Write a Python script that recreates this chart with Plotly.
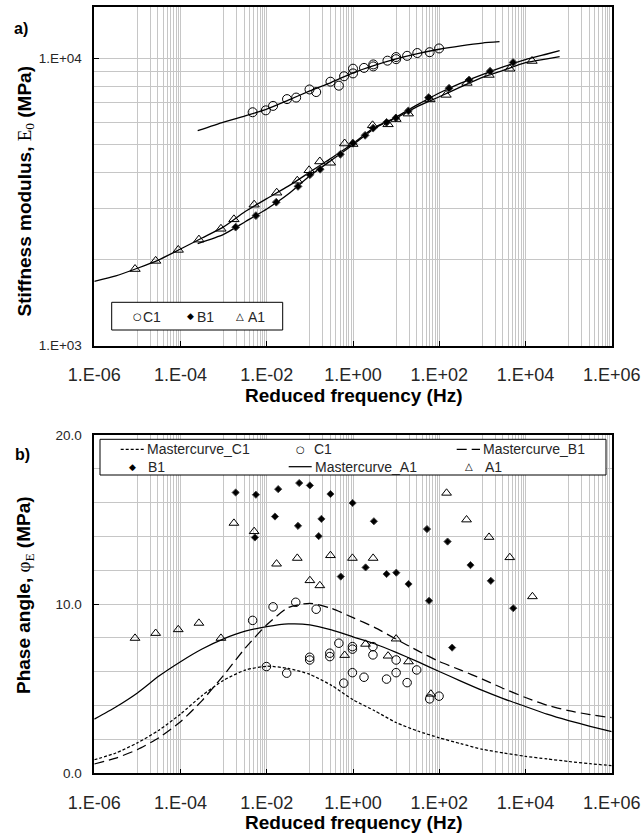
import plotly.graph_objects as go

# ---------------- data: stiffness modulus (panel a) ----------------
C1_F = [4.7e-3, 9.5e-3, 1.4e-2, 2.95e-2, 4.8e-2, 9.8e-2, 0.14, 0.30, 0.47, 0.62,
        1.0, 1.0, 1.8, 2.95, 2.95, 6.3, 10, 10, 18, 31, 60, 99]
C1_E = [6490, 6590, 6830, 7210, 7300, 7790, 7630, 8290, 8030, 8660,
        9200, 8860, 9260, 9370, 9520, 9810, 9930, 10100, 10200, 10430, 10500, 10820]

B1_F = [1.9e-3, 5.6e-3, 1.66e-2, 5.3e-2, 0.10, 0.173, 0.51, 1.0, 1.91, 2.93,
        6.0, 9.9, 19.2, 56.5, 169, 493, 1510, 5160]
B1_E = [2585, 2835, 3157, 3583, 3934, 4110, 4634, 5060, 5395, 5715,
        5985, 6204, 6561, 7297, 7867, 8408, 9013, 9670]

A1_F = [8.8e-6, 2.65e-5, 8.85e-5, 2.67e-4, 8.65e-4, 1.73e-3, 5.1e-3, 1.7e-2, 5.1e-2, 9.6e-2,
        0.17, 0.30, 0.64, 0.99, 2.84, 6.5, 9.9, 19.2, 60.5, 144, 440, 1430, 4330, 14200]
A1_E = [1848, 1973, 2154, 2339, 2551, 2752, 3095, 3407, 3750, 4077,
        4375, 4330, 5052, 5031, 5845, 5891, 6144, 6420, 7194, 7459, 8207, 8750, 9195, 9786]

# fitted master curves of the modulus
C1_MC_F = [2.5e-4, 1e-3, 3.16e-3, 1e-2, 3.16e-2, 0.1, 0.316, 1, 3.16, 10, 31.6, 100, 316, 1000, 2500]
C1_MC_E = [5600, 6000, 6300, 6650, 7150, 7700, 8250, 8900, 9450, 9950, 10380, 10750, 11050, 11300, 11420]

B1_MC_F = [2.5e-4, 1e-3, 3.16e-3, 1e-2, 3.16e-2, 0.1, 0.316, 1, 3.16, 10, 31.6, 100, 316,
           1000, 3160, 1e4, 3.16e4, 6.2e4]
B1_MC_E = [2266, 2440, 2700, 2990, 3370, 3900, 4420, 5000, 5700, 6250, 6900, 7570, 8200,
           8780, 9350, 9900, 10350, 10626]

A1_MC_F = [1e-6, 3.16e-6, 1e-5, 3.16e-5, 1e-4, 3.16e-4, 1e-3, 3.16e-3, 1e-2, 3.16e-2, 0.1, 0.316,
           1, 3.16, 10, 31.6, 100, 316, 1000, 3160, 1e4, 3.16e4, 6.2e4]
A1_MC_E = [1675, 1750, 1860, 1990, 2170, 2370, 2590, 2930, 3250, 3590, 4020, 4500,
           5050, 5750, 6200, 6800, 7350, 7950, 8580, 9100, 9650, 9950, 10130]

# ---------------- data: phase angle (panel b) ----------------
C1_PF = [4.7e-3, 1.4e-2, 4.7e-2, 0.14, 9.8e-3, 2.9e-2, 9.9e-2, 9.9e-2, 0.29, 0.29, 0.47, 0.61,
         0.97, 0.97, 0.97, 1.8, 2.9, 2.9, 6.0, 10, 10, 18, 30, 60, 99]
C1_PHI = [9.04, 9.84, 10.11, 9.70, 6.31, 5.92, 6.86, 6.70, 7.10, 6.90, 7.69, 5.33,
          5.95, 7.49, 7.34, 5.68, 7.49, 7.00, 5.57, 5.95, 6.70, 5.36, 6.11, 4.40, 4.56]

B1_PF = [1.9e-3, 5.6e-3, 1.84e-2, 5.65e-2, 0.10, 0.30, 0.98, 3.05, 52, 156, 531, 1570, 5210,
         1.55e-2, 5.3e-2, 0.185, 5.3e-3, 0.16, 0.52, 1.96, 6.0, 10.1, 19.4, 58, 199]
B1_PHI = [16.60, 16.47, 16.80, 17.16, 17.02, 16.51, 15.98, 14.90, 14.44, 13.70, 12.31, 11.38, 9.76,
          15.18, 14.63, 15.04, 13.94, 14.02, 11.63, 12.17, 11.78, 11.86, 11.19, 10.20, 7.43]

A1_PF = [8.8e-6, 2.65e-5, 8.85e-5, 2.67e-4, 8.65e-4, 1.73e-3, 5.1e-3, 1.69e-2, 5.1e-2, 0.10,
         0.17, 0.30, 0.97, 2.93, 148, 430, 1430, 4330, 14500, 10, 0.64, 1.95, 6.5, 19.4, 64]
A1_PHI = [7.99, 8.28, 8.50, 8.88, 7.99, 14.79, 14.30, 12.38, 12.72, 11.40,
          11.10, 12.88, 12.72, 12.72, 16.57, 14.99, 13.96, 12.76, 10.45, 7.95, 6.98, 7.64, 6.94, 6.60, 4.69]

MC_F = [1e-6, 3.16e-6, 1e-5, 3.16e-5, 1e-4, 3.16e-4, 1e-3, 3.16e-3, 1e-2, 3.16e-2, 0.1, 0.316,
        1, 3.16, 10, 31.6, 100, 316, 1000, 3160, 1e4, 3.16e4, 1e5, 3.16e5, 1e6]
MC_C1_PHI = [0.8, 1.2, 1.8, 2.55, 3.5, 4.6, 5.5, 6.1, 6.33, 6.2, 5.85, 5.2,
             4.35, 3.7, 3.0, 2.5, 2.1, 1.75, 1.42, 1.2, 1.0, 0.85, 0.7, 0.57, 0.45]
MC_B1_PHI = [0.55, 0.9, 1.4, 2.1, 3.05, 4.3, 5.8, 7.4, 8.78, 9.8, 10.05, 9.75,
             9.2, 8.63, 7.93, 7.25, 6.61, 6.1, 5.57, 5.0, 4.48, 4.03, 3.7, 3.47, 3.29]
MC_A1_PHI = [3.2, 3.92, 4.75, 5.75, 6.6, 7.35, 7.95, 8.4, 8.67, 8.83, 8.78, 8.48,
             8.07, 7.66, 7.15, 6.6, 6.02, 5.45, 4.9, 4.4, 3.95, 3.5, 3.12, 2.78, 2.46]

X_TICKS = [1e-6, 1e-4, 1e-2, 1, 1e2, 1e4, 1e6]
X_TICKTEXT = ["1.E-06", "1.E-04", "1.E-02", "1.E+00", "1.E+02", "1.E+04", "1.E+06"]

# ---------------- styling ----------------
W, H = 643, 834
FONT = "Arial, Liberation Sans, sans-serif"
GLYPH_FONT = "DejaVu Sans"
GRID = "#c6c6c6"
TXT = "#262626"
px_x = lambda p: p / W
px_y = lambda p: (H - p) / H

x_dom = [px_x(94.3), px_x(611.7)]
top_dom = [px_y(345.7), px_y(6.7)]
bot_dom = [px_y(773.3), px_y(435.0)]

# extra gridlines between the labelled decades
x_minor = [m * 10.0 ** e for e in (-5, -3, -1, 1, 3, 5) for m in range(1, 10)]
y_minor_top = [m * 1000 for m in range(2, 10)]

DASH = {"C1": "3px,2px", "B1": "10px,5px", "A1": "solid"}
SYMBOL = {"C1": "circle-open", "B1": "diamond", "A1": "triangle-up-open"}
GLYPH = {"C1": "○", "B1": "◆", "A1": "△"}

fig = go.Figure()

line_solid = dict(color="black", width=1.3, shape="spline", smoothing=0.6)

# panel a: curves
for f, e in [(C1_MC_F, C1_MC_E), (B1_MC_F, B1_MC_E), (A1_MC_F, A1_MC_E)]:
    fig.add_trace(go.Scatter(x=f, y=e, mode="lines", line=line_solid, showlegend=False,
                             hoverinfo="skip", xaxis="x", yaxis="y"))

# panel a: measured points
for name, f, e, size in [("C1", C1_F, C1_E, 9), ("B1", B1_F, B1_E, 6), ("A1", A1_F, A1_E, 9)]:
    fig.add_trace(go.Scatter(x=f, y=e, mode="markers", name=name, showlegend=False,
                             marker=dict(symbol=SYMBOL[name], size=size, color="black",
                                         line=dict(width=1)),
                             xaxis="x", yaxis="y"))

# panel b: master curves and measured phase angles
for name, mc, f, phi, size in [("C1", MC_C1_PHI, C1_PF, C1_PHI, 8.5),
                               ("B1", MC_B1_PHI, B1_PF, B1_PHI, 5.5),
                               ("A1", MC_A1_PHI, A1_PF, A1_PHI, 8.5)]:
    fig.add_trace(go.Scatter(x=MC_F, y=mc, mode="lines", name="Mastercurve_" + name, showlegend=False,
                             line=dict(color="black", width=1.25, dash=DASH[name],
                                       shape="spline", smoothing=0.6),
                             xaxis="x2", yaxis="y2"))
    fig.add_trace(go.Scatter(x=f, y=phi, mode="markers", name=name, showlegend=False,
                             marker=dict(symbol=SYMBOL[name], size=size, color="black",
                                         line=dict(width=1)),
                             xaxis="x2", yaxis="y2"))

xaxis_common = dict(
    type="log", range=[-6, 6], domain=x_dom, automargin=False,
    tickvals=X_TICKS, ticktext=X_TICKTEXT, tickfont=dict(size=18, color=TXT, family=FONT),
    ticks="inside", ticklen=5, tickcolor="black", ticklabelstandoff=12,
    showgrid=True, gridcolor=GRID, gridwidth=1,
    minor=dict(tickmode="array", tickvals=x_minor, showgrid=True, gridcolor=GRID, gridwidth=1, ticks=""),
    showline=True, linecolor="black", linewidth=1.5, mirror=True, zeroline=False,
)

fig.update_layout(
    width=W, height=H, margin=dict(l=0, r=0, t=0, b=0, autoexpand=False),
    paper_bgcolor="white", plot_bgcolor="white", showlegend=False,
    font=dict(family=FONT, color=TXT),
    xaxis=dict(xaxis_common, anchor="y"),
    yaxis=dict(type="log", range=[3, 4.1795], domain=top_dom, anchor="x", automargin=False,
               tickvals=[1000, 10000], ticktext=["1.E+03", "1.E+04"],
               tickfont=dict(size=13.5, color=TXT), ticks="inside", ticklen=5, tickcolor="black",
               ticklabelstandoff=8,
               showgrid=True, gridcolor=GRID, gridwidth=1,
               minor=dict(tickmode="array", tickvals=y_minor_top, showgrid=True, gridcolor=GRID,
                          gridwidth=1, ticks=""),
               showline=True, linecolor="black", linewidth=1.5, mirror=True, zeroline=False),
    xaxis2=dict(xaxis_common, anchor="y2"),
    yaxis2=dict(range=[0, 20], domain=bot_dom, anchor="x2", automargin=False,
                tickvals=[0, 10, 20], ticktext=["0.0", "10.0", "20.0"],
                tickfont=dict(size=13.5, color=TXT), ticks="inside", ticklen=5, tickcolor="black",
                ticklabelstandoff=8,
                showgrid=True, gridcolor=GRID, gridwidth=1,
                minor=dict(dtick=2, showgrid=True, gridcolor=GRID, gridwidth=1, ticks=""),
                showline=True, linecolor="black", linewidth=1.5, mirror=True, zeroline=False),
)

shapes = []
ann = [
    dict(text="<b>a)</b>", x=px_x(21), y=px_y(28), font=dict(size=16, color="black")),
    dict(text="<b>b)</b>", x=px_x(22), y=px_y(455), font=dict(size=16, color="black")),
    dict(text="<b>Reduced frequency (Hz)</b>", x=px_x(353), y=px_y(395), font=dict(size=19, color="black")),
    dict(text="<b>Reduced frequency (Hz)</b>", x=px_x(353), y=px_y(822.7), font=dict(size=19, color="black")),
    dict(text="<b>Stiffness modulus, </b><span style='font-family:Liberation Serif'>E<sub>0</sub></span><b> (MPa)</b>",
         x=px_x(25), y=px_y(191.5), textangle=-90, font=dict(size=19, color="black")),
    dict(text="<b>Phase angle, </b><span style='font-family:Liberation Serif'>φ<sub>E</sub></span><b> (MPa)</b>",
         x=px_x(25), y=px_y(595), textangle=-90, font=dict(size=19, color="black")),
]
for a in ann:
    a.update(xanchor="center", yanchor="middle")


# ---- legend boxes (keys + labels), placed in pixel units ----
def legend_box(x0, y0, x1, y1):
    shapes.append(dict(type="rect", xref="paper", yref="paper",
                       x0=px_x(x0), x1=px_x(x1), y0=px_y(y1), y1=px_y(y0),
                       line=dict(color="black", width=1), fillcolor="white", layer="above"))


def legend_label(x, y, text):
    ann.append(dict(text=text, x=px_x(x), y=px_y(y), xanchor="left", yanchor="middle",
                    font=dict(size=14, color=TXT, family=FONT)))


def legend_glyph(x, y, name, size):
    ann.append(dict(text=GLYPH[name], x=px_x(x), y=px_y(y), xanchor="center", yanchor="middle",
                    font=dict(size=size, color="black", family=GLYPH_FONT)))


def legend_line(x0, x1, y, name):
    shapes.append(dict(type="line", xref="paper", yref="paper", layer="above",
                       x0=px_x(x0), x1=px_x(x1), y0=px_y(y), y1=px_y(y),
                       line=dict(color="black", width=1.25, dash=DASH[name])))


# panel a legend
legend_box(111.7, 302.3, 282.7, 330.0)
for name, gx, tx in [("C1", 137.2, 141.0), ("B1", 190.0, 195.0), ("A1", 239.5, 246.0)]:
    legend_glyph(gx, 316.0, name, 10 if name != "B1" else 9)
    legend_label(tx, 316.5, name)

# panel b legend (two rows, three columns)
legend_box(100.0, 439.3, 606.0, 475.0)
legend_line(120.7, 144.0, 449.3, "C1")
legend_label(145.0, 449.3, "Mastercurve_C1")
legend_glyph(300.3, 449.0, "C1", 10)
legend_label(311.5, 449.3, "C1")
legend_line(456.7, 480.0, 449.3, "B1")
legend_label(481.0, 449.3, "Mastercurve_B1")
legend_glyph(132.7, 466.5, "B1", 9)
legend_label(146.0, 466.7, "B1")
legend_line(288.7, 311.7, 466.7, "A1")
legend_label(312.5, 466.7, "Mastercurve_A1")
legend_glyph(469.3, 466.5, "A1", 10)
legend_label(483.3, 466.7, "A1")

for a in ann:
    a.update(xref="paper", yref="paper", showarrow=False)
fig.update_layout(annotations=ann, shapes=shapes)

fig.write_html("out.html")
